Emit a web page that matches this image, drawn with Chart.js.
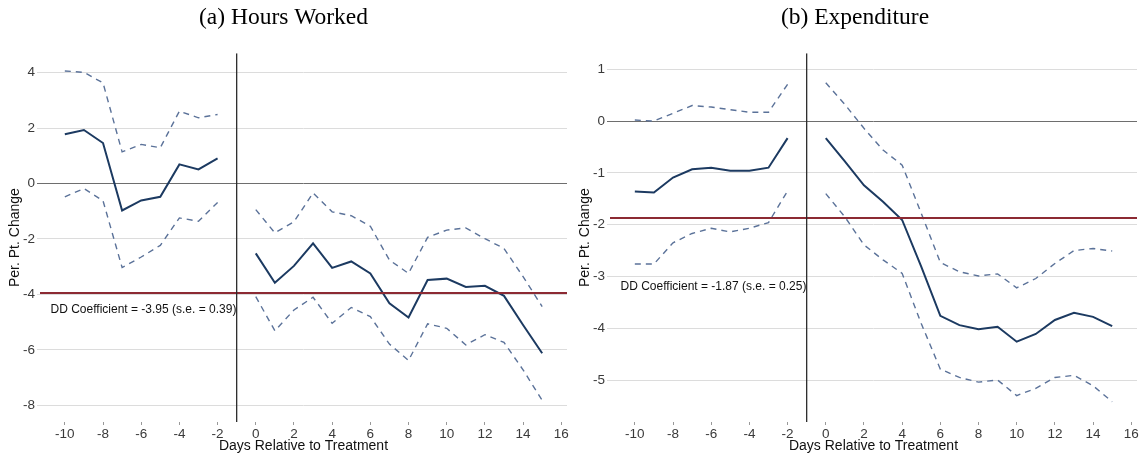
<!DOCTYPE html>
<html>
<head>
<meta charset="utf-8">
<script src="https://cdn.jsdelivr.net/npm/chart.js@4.4.1/dist/chart.umd.min.js"></script>
<style>
  html, body { margin: 0; padding: 0; background: #fff; }
  .row { display: flex; width: 1147px; height: 458px; }
  .panel { position: relative; height: 458px; }
</style>
</head>
<body>
<div class="row">
  <div class="panel" style="width:573px"><canvas id="hours"></canvas></div>
  <div class="panel" style="width:574px"><canvas id="spend"></canvas></div>
</div>
<script>
// event days (-1 is the omitted reference day, kept as a gap)
const days = [-10, -9, -8, -7, -6, -5, -4, -3, -2, -1, 0, 1, 2, 3, 4, 5, 6, 7, 8, 9, 10, 11, 12, 13, 14, 15];
const xTicks = [-10, -8, -6, -4, -2, 0, 2, 4, 6, 8, 10, 12, 14, 16];

// (a) hours worked
const hoursEst = [1.78, 1.93, 1.46, -0.97, -0.61, -0.48, 0.69, 0.51, 0.91, null,
  -2.52, -3.58, -2.97, -2.16, -3.04, -2.81, -3.24, -4.32, -4.83, -3.48, -3.43, -3.73, -3.69, -4.05, -5.10, -6.12];
const hoursUpper = [4.06, 4.01, 3.63, 1.14, 1.41, 1.29, 2.61, 2.37, 2.49, null,
  -0.94, -1.78, -1.38, -0.34, -1.02, -1.16, -1.54, -2.76, -3.24, -1.94, -1.68, -1.60, -1.99, -2.34, -3.36, -4.44];
const hoursLower = [-0.48, -0.18, -0.62, -3.03, -2.65, -2.23, -1.24, -1.36, -0.68, null,
  -4.08, -5.31, -4.56, -4.10, -5.04, -4.47, -4.80, -5.79, -6.38, -5.06, -5.22, -5.82, -5.45, -5.73, -6.72, -7.82];
const hoursTicks = [-8, -6, -4, -2, 0, 2, 4];
const hoursDD = -3.95;

// (b) expenditure
const spendEst = [-1.36, -1.38, -1.09, -0.93, -0.90, -0.96, -0.96, -0.90, -0.33, null,
  -0.33, -0.78, -1.24, -1.56, -1.91, -2.81, -3.76, -3.94, -4.02, -3.97, -4.26, -4.11, -3.84, -3.70, -3.78, -3.96];
const spendUpper = [0.02, 0.00, 0.15, 0.30, 0.27, 0.22, 0.17, 0.17, 0.71, null,
  0.74, 0.32, -0.14, -0.56, -0.85, -1.78, -2.73, -2.91, -2.99, -2.95, -3.22, -3.04, -2.75, -2.50, -2.46, -2.51];
const spendLower = [-2.76, -2.76, -2.35, -2.17, -2.07, -2.14, -2.07, -1.96, -1.35, null,
  -1.40, -1.85, -2.39, -2.68, -2.94, -3.91, -4.79, -4.95, -5.04, -5.00, -5.30, -5.16, -4.95, -4.91, -5.11, -5.42];
const spendTicks = [-5, -4, -3, -2, -1, 0, 1];
const spendDD = -1.87;

const NAVY = "#1c3a61";
const SLATE = "#5b7299";
const MAROON = "#8c2a33";
const FONT = "'Liberation Sans', Arial, sans-serif";

function pts(values) {
  return days.map((d, i) => ({ x: d, y: values[i] }));
}

// writes the DD coefficient text inside the plot area
const ddLabel = {
  id: "ddLabel",
  afterDatasetsDraw(chart) {
    const o = chart.options.plugins.ddLabel;
    const { ctx, scales } = chart;
    ctx.save();
    ctx.font = "12px " + FONT;
    ctx.fillStyle = "#111";
    ctx.textBaseline = "middle";
    ctx.fillText(o.text, scales.x.getPixelForValue(o.x), scales.y.getPixelForValue(o.y));
    ctx.restore();
  }
};

function renderPanel(id, title, est, upper, lower, yTicks, yMin, yMax, dd, labelY, yWidth, yTitlePad, padRight) {
  const xMin = -11.3, xMax = 16.3;
  const dash = { borderColor: SLATE, borderWidth: 1.4, borderDash: [6, 5], pointRadius: 0, spanGaps: false };
  return new Chart(document.getElementById(id), {
    type: "line",
    data: {
      datasets: [
        { data: [{ x: -1, y: yMin }, { x: -1, y: yMax }], borderColor: "#2b2b2b", borderWidth: 1.3, pointRadius: 0 },
        { data: [{ x: xMin, y: dd }, { x: xMax, y: dd }], borderColor: MAROON, borderWidth: 2, pointRadius: 0 },
        Object.assign({ data: pts(upper) }, dash),
        Object.assign({ data: pts(lower) }, dash),
        { data: pts(est), borderColor: NAVY, borderWidth: 2, pointRadius: 0, spanGaps: false }
      ]
    },
    options: {
      responsive: true,
      maintainAspectRatio: false,
      animation: false,
      layout: { padding: { left: 0, right: padRight, top: 0, bottom: 0 } },
      plugins: {
        legend: { display: false },
        tooltip: { enabled: false },
        title: {
          display: true,
          text: title,
          color: "#000",
          font: { family: "'Liberation Serif', 'Times New Roman', serif", size: 23.5, weight: "normal" },
          padding: { top: 4, bottom: 21 }
        },
        ddLabel: { text: "DD Coefficient = " + dd.toFixed(2) + labelY.se, x: -10.75, y: labelY.y }
      },
      scales: {
        x: {
          type: "linear",
          min: xMin,
          max: xMax,
          afterBuildTicks: (s) => { s.ticks = xTicks.map((v) => ({ value: v })); },
          afterFit: (s) => { s.height = 36; },
          grid: { drawOnChartArea: false, tickLength: 3, color: "#999" },
          border: { display: false },
          ticks: { color: "#3a3a3a", font: { family: FONT, size: 13.5 }, padding: 1, maxRotation: 0 },
          title: { display: true, text: "Days Relative to Treatment", color: "#111", font: { family: FONT, size: 14 }, padding: { top: 0, bottom: 3 } }
        },
        y: {
          min: yMin,
          max: yMax,
          afterBuildTicks: (s) => { s.ticks = yTicks.map((v) => ({ value: v })); },
          afterFit: (s) => { s.width = yWidth; },
          grid: {
            tickLength: 3,
            color: (c) => (c.tick && c.tick.value === 0 ? "#6e6e6e" : "#dcdcdc"),
            lineWidth: 1
          },
          border: { display: false },
          ticks: { color: "#3a3a3a", font: { family: FONT, size: 13.5 }, padding: 2 },
          title: { display: true, text: "Per. Pt. Change", color: "#111", font: { family: FONT, size: 14 }, padding: { top: yTitlePad, bottom: 0 } }
        }
      }
    },
    plugins: [ddLabel]
  });
}

renderPanel("hours", "(a) Hours Worked", hoursEst, hoursUpper, hoursLower, hoursTicks,
  -8.6, 4.7, hoursDD, { y: -4.55, se: " (s.e. = 0.39)" }, 40, 7, 6);
renderPanel("spend", "(b) Expenditure", spendEst, spendUpper, spendLower, spendTicks,
  -5.81, 1.31, spendDD, { y: -3.2, se: " (s.e. = 0.25)" }, 37, 4, 10);
</script>
</body>
</html>
